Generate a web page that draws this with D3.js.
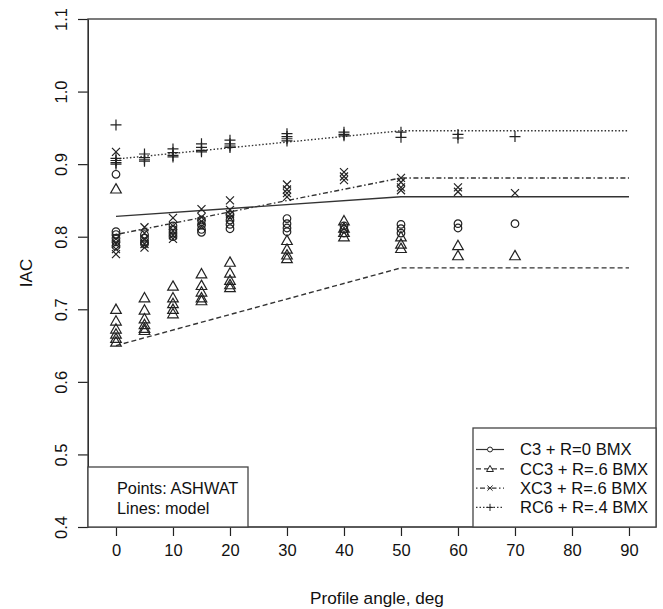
<!DOCTYPE html>
<html>
<head>
<meta charset="utf-8">
<script src="https://cdn.jsdelivr.net/npm/d3@7"></script>
<style>
  html, body { margin: 0; padding: 0; background: #fff; }
  svg { display: block; font-family: "Liberation Sans", Arial, sans-serif; }
</style>
</head>
<body>
<svg id="chart" width="663" height="609"></svg>
<script>
// ---------------- data ----------------
const xTicks = [0, 10, 20, 30, 40, 50, 60, 70, 80, 90];
const yTicks = [0.4, 0.5, 0.6, 0.7, 0.8, 0.9, 1.0, 1.1];
const yTickLabels = ["0.4", "0.5", "0.6", "0.7", "0.8", "0.9", "1.0", "1.1"];

const seriesNames = ["C3 + R=0 BMX", "CC3 + R=.6 BMX", "XC3 + R=.6 BMX", "RC6 + R=.4 BMX"];

// model lines (angle, IAC)
const modelAngles = [0, 50, 90];
const c3Model  = [0.828, 0.855, 0.855];
const cc3Model = [0.650, 0.757, 0.757];
const xc3Model = [0.803, 0.881, 0.881];
const rc6Model = [0.907, 0.946, 0.946];

// ASHWAT points [angle, IAC]
const c3Points = [
  [0,0.886],[0,0.807],[0,0.803],[0,0.798],[0,0.793],[0,0.787],
  [5,0.803],[5,0.798],[5,0.793],[5,0.790],
  [10,0.815],[10,0.810],[10,0.805],[10,0.800],
  [15,0.823],[15,0.816],[15,0.810],[15,0.806],
  [20,0.830],[20,0.823],[20,0.817],[20,0.811],
  [30,0.825],[30,0.818],[30,0.812],[30,0.807],
  [40,0.815],[40,0.810],[40,0.805],
  [50,0.817],[50,0.811],[50,0.805],
  [60,0.818],[60,0.812],
  [70,0.818]
];
const cc3Points = [
  [0,0.866],[0,0.700],[0,0.684],[0,0.673],[0,0.666],[0,0.660],[0,0.655],
  [5,0.716],[5,0.699],[5,0.687],[5,0.679],[5,0.674],[5,0.671],
  [10,0.732],[10,0.716],[10,0.708],[10,0.700],[10,0.694],
  [15,0.749],[15,0.733],[15,0.724],[15,0.716],[15,0.712],
  [20,0.765],[20,0.750],[20,0.740],[20,0.734],[20,0.730],
  [30,0.795],[30,0.783],[30,0.775],[30,0.770],
  [40,0.822],[40,0.812],[40,0.806],[40,0.800],
  [50,0.800],[50,0.790],[50,0.784],
  [60,0.788],[60,0.774],
  [70,0.774]
];
const xc3Points = [
  [0,0.917],[0,0.797],[0,0.790],[0,0.783],[0,0.776],
  [5,0.813],[5,0.805],[5,0.797],[5,0.790],[5,0.785],
  [10,0.826],[10,0.815],[10,0.808],[10,0.802],[10,0.797],
  [15,0.838],[15,0.827],[15,0.821],[15,0.814],
  [20,0.850],[20,0.837],[20,0.831],[20,0.826],
  [30,0.872],[30,0.865],[30,0.860],[30,0.855],
  [40,0.889],[40,0.883],[40,0.878],
  [50,0.881],[50,0.875],[50,0.868],[50,0.864],
  [60,0.868],[60,0.862],
  [70,0.860]
];
const rc6Points = [
  [0,0.954],[0,0.908],[0,0.905],[0,0.902],[0,0.900],
  [5,0.914],[5,0.909],[5,0.906],[5,0.904],
  [10,0.921],[10,0.916],[10,0.912],[10,0.910],
  [15,0.928],[15,0.923],[15,0.919],[15,0.917],
  [20,0.933],[20,0.928],[20,0.925],[20,0.923],
  [30,0.942],[30,0.938],[30,0.935],[30,0.932],
  [40,0.944],[40,0.941],[40,0.939],
  [50,0.944],[50,0.937],
  [60,0.941],[60,0.936],
  [70,0.938]
];

// ---------------- layout ----------------
const svg = d3.select("#chart");
const plot = { left: 88, right: 656, top: 19, bottom: 527 };
const x = d3.scaleLinear().domain([-4.91, 94.74]).range([plot.left, plot.right]);
const y = d3.scaleLinear().domain([0.4, 1.1]).range([plot.bottom, plot.top]);

const ink = "#222";
const lineInk = "#333";
const dashes = ["none", "5,3", "1.5,2.5,5,2.5", "1.5,2"];
const shapes = ["circle", "triangle", "cross", "plus"];

function symbolPath(shape, s) {
  if (shape === "circle") {
    const r = 3.8 * s;
    return `M${-r},0a${r},${r} 0 1,0 ${2*r},0a${r},${r} 0 1,0 ${-2*r},0Z`;
  }
  if (shape === "triangle") {
    const h = 5.2 * s, w = 5.3 * s;
    return `M0,${-h}L${w},${h*0.8}L${-w},${h*0.8}Z`;
  }
  if (shape === "cross") {
    const a = 4.0 * s;
    return `M${-a},${-a}L${a},${a}M${-a},${a}L${a},${-a}`;
  }
  const p = 5.5 * s;
  return `M${-p},0L${p},0M0,${-p}L0,${p}`;
}

// ---------------- model lines ----------------
const models = [c3Model, cc3Model, xc3Model, rc6Model];
const line = d3.line().x(d => x(d[0])).y(d => y(d[1]));
models.forEach((vals, i) => {
  svg.append("path")
    .datum(modelAngles.map((a, k) => [a, vals[k]]))
    .attr("d", line)
    .attr("fill", "none")
    .attr("stroke", lineInk)
    .attr("stroke-width", 1.4)
    .attr("stroke-dasharray", dashes[i]);
});

// ---------------- points ----------------
const pointSets = [c3Points, cc3Points, xc3Points, rc6Points];
pointSets.forEach((pts, i) => {
  svg.append("g").selectAll("path")
    .data(pts)
    .join("path")
    .attr("transform", d => `translate(${x(d[0])},${y(d[1])})`)
    .attr("d", symbolPath(shapes[i], 1))
    .attr("fill", "none")
    .attr("stroke", ink)
    .attr("stroke-width", 1.2);
});

// ---------------- axes ----------------
const xAxis = d3.axisBottom(x).tickValues(xTicks).tickSize(9).tickPadding(8).tickFormat(d3.format("d"));
const gx = svg.append("g").attr("transform", `translate(0,${plot.bottom})`).call(xAxis);
gx.select(".domain").attr("d", `M${x(0)},0H${x(90)}`).attr("stroke", ink);
gx.selectAll(".tick line").attr("stroke", ink).attr("stroke-width", 1.2);
gx.selectAll(".tick text").attr("font-size", 16.5).attr("fill", "#111")
  .attr("font-family", "Liberation Sans, Arial, sans-serif");

const yAxis = d3.axisLeft(y).tickValues(yTicks).tickSize(10)
  .tickFormat((d, i) => yTickLabels[i]);
const gy = svg.append("g").attr("transform", `translate(${plot.left},0)`).call(yAxis);
gy.selectAll(".tick line").attr("stroke", ink).attr("stroke-width", 1.2);
gy.selectAll(".tick text")
  .attr("font-size", 16.5).attr("fill", "#111")
  .attr("font-family", "Liberation Sans, Arial, sans-serif")
  .attr("x", null).attr("dy", null)
  .attr("text-anchor", "middle")
  .attr("transform", "translate(-21,0) rotate(-90)");

// plot box
svg.append("rect")
  .attr("x", plot.left).attr("y", plot.top)
  .attr("width", plot.right - plot.left).attr("height", plot.bottom - plot.top)
  .attr("fill", "none").attr("stroke", "#444").attr("stroke-width", 1.4);

// axis titles
svg.append("text")
  .attr("x", (plot.left + plot.right) / 2 + 5).attr("y", 604)
  .attr("text-anchor", "middle").attr("font-size", 17.2).attr("fill", "#111")
  .text("Profile angle, deg");
svg.append("text")
  .attr("transform", `translate(32,${(plot.top + plot.bottom) / 2}) rotate(-90)`)
  .attr("text-anchor", "middle").attr("font-size", 17).attr("fill", "#111")
  .text("IAC");

// ---------------- legends ----------------
const noteBox = svg.append("g");
noteBox.append("rect")
  .attr("x", plot.left).attr("y", 467).attr("width", 160).attr("height", plot.bottom - 467)
  .attr("fill", "#fff").attr("stroke", "#444").attr("stroke-width", 1.3);
["Points: ASHWAT", "Lines: model"].forEach((t, i) => {
  noteBox.append("text").attr("x", 117).attr("y", 494 + i * 19.5)
    .attr("font-size", 16.3).attr("fill", "#111").text(t);
});

const leg = svg.append("g");
const legLeft = 473;
leg.append("rect")
  .attr("x", legLeft).attr("y", 428).attr("width", plot.right - legLeft).attr("height", plot.bottom - 428)
  .attr("fill", "#fff").attr("stroke", "#444").attr("stroke-width", 1.3);
seriesNames.forEach((name, i) => {
  const cy = 449.5 + i * 19.3;
  leg.append("line").attr("x1", 476).attr("x2", 504).attr("y1", cy).attr("y2", cy)
    .attr("stroke", lineInk).attr("stroke-width", 1.2).attr("stroke-dasharray", dashes[i]);
  leg.append("path").attr("transform", `translate(490,${cy})`)
    .attr("d", symbolPath(shapes[i], 0.65))
    .attr("fill", i < 2 ? "#fff" : "none")
    .attr("stroke", ink).attr("stroke-width", 1);
  leg.append("text").attr("x", 520).attr("y", cy + 5.9)
    .attr("font-size", 16.6).attr("fill", "#111").text(name);
});
</script>
</body>
</html>
